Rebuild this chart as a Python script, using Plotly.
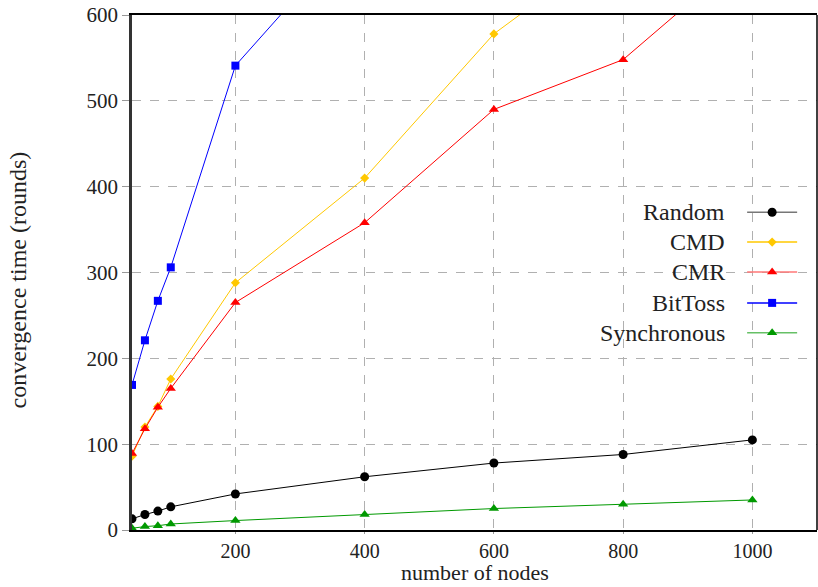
import plotly.graph_objects as go

nodes = [40, 60, 80, 100, 200, 400, 600, 800, 1000]
random_t = [13, 18, 22, 27, 42, 62, 78, 88, 105]
cmd_t = [86, 120, 144, 176, 288, 410, 578, 690, 800]
cmr_t = [89, 118, 143, 165, 265, 358, 490, 548, 677]
bittoss_t = [169, 221, 267, 306, 541, 710]
sync_t = [2, 4, 5, 7, 11, 18, 25, 30, 35]

names = ["Random", "CMD", "CMR", "BitToss", "Synchronous"]
series = [random_t, cmd_t, cmr_t, bittoss_t, sync_t]
colors = ["#000000", "#ffc800", "#ff0000", "#0000ff", "#009900"]
legend_line_colors = ["#777777", "#ffc800", "#ff7777", "#0000ff", "#66c066"]
symbols = ["circle", "diamond", "triangle-up", "square", "triangle-up"]
sizes = [9, 7, 9, 8, 9]

FONT = "Liberation Serif"
fig = go.Figure()

for name, ys, c, s, sz in zip(names, series, colors, symbols, sizes):
    fig.add_trace(go.Scatter(
        x=nodes[:len(ys)], y=ys, mode="lines+markers", name=name,
        line=dict(color=c, width=1),
        marker=dict(symbol=s, size=sz, color=c, line=dict(width=0)),
        showlegend=False,
    ))

# custom legend (text on left, sample on right)
leg_y = [0.617, 0.559, 0.501, 0.441, 0.383]
for name, c, lc, s, sz, yy in zip(names, colors, legend_line_colors, symbols, sizes, leg_y):
    fig.add_trace(go.Scatter(
        x=[0.898, 0.971], y=[yy, yy], mode="lines", xaxis="x2", yaxis="y2",
        line=dict(color=lc, width=1.5), showlegend=False, hoverinfo="skip"))
    fig.add_trace(go.Scatter(
        x=[0.9345], y=[yy], mode="markers", xaxis="x2", yaxis="y2",
        marker=dict(symbol=s, size=sz, color=c, line=dict(width=0)),
        showlegend=False, hoverinfo="skip"))
    fig.add_annotation(x=0.869, y=yy, xref="paper", yref="paper", text=name,
                       showarrow=False, xanchor="right", yanchor="middle",
                       font=dict(family=FONT, size=24, color="#222"))

fig.add_shape(type="rect", xref="paper", yref="paper", x0=0.642, x1=0.982,
              y0=0.357, y1=0.649, fillcolor="white", line=dict(width=0),
              layer="between")
fig.add_shape(type="line", xref="paper", yref="paper", x0=1, x1=1, y0=0, y1=1,
              line=dict(color="#000", width=1.5))

fig.add_annotation(x=-0.166, y=0.485, xref="paper", yref="paper",
                   text="convergence time (rounds)", textangle=-90,
                   showarrow=False, xanchor="center", yanchor="middle",
                   font=dict(family=FONT, size=24, color="#222"))
fig.add_annotation(x=0.50, y=-0.1107, xref="paper", yref="paper",
                   text="number of nodes", showarrow=False,
                   xanchor="center", yanchor="bottom",
                   font=dict(family=FONT, size=22, color="#222"))

fig.update_layout(
    width=818, height=587,
    margin=dict(l=132, r=1, t=15, b=57),
    plot_bgcolor="white", paper_bgcolor="white",
    font=dict(family=FONT, size=21, color="#222"),
    xaxis=dict(range=[40, 1100], tickvals=[200, 400, 600, 800, 1000],
               tickfont=dict(size=20),
               showgrid=True, gridcolor="#b0b0b0", griddash="dash", gridwidth=1,
               showline=True, linecolor="#000", linewidth=1.5, mirror=True,
               ticks="outside", ticklen=2, tickcolor="#999", zeroline=False),
    yaxis=dict(range=[0, 600], tickvals=[0, 100, 200, 300, 400, 500, 600],
               showgrid=True, gridcolor="#b0b0b0", griddash="dash", gridwidth=1,
               showline=True, linecolor="#333", linewidth=2.5,
               ticks="outside", ticklen=7, tickcolor="#999", zeroline=False),
    xaxis2=dict(overlaying="x", range=[0, 1], visible=False),
    yaxis2=dict(overlaying="y", range=[0, 1], visible=False),
)

fig.write_html("out.html")
